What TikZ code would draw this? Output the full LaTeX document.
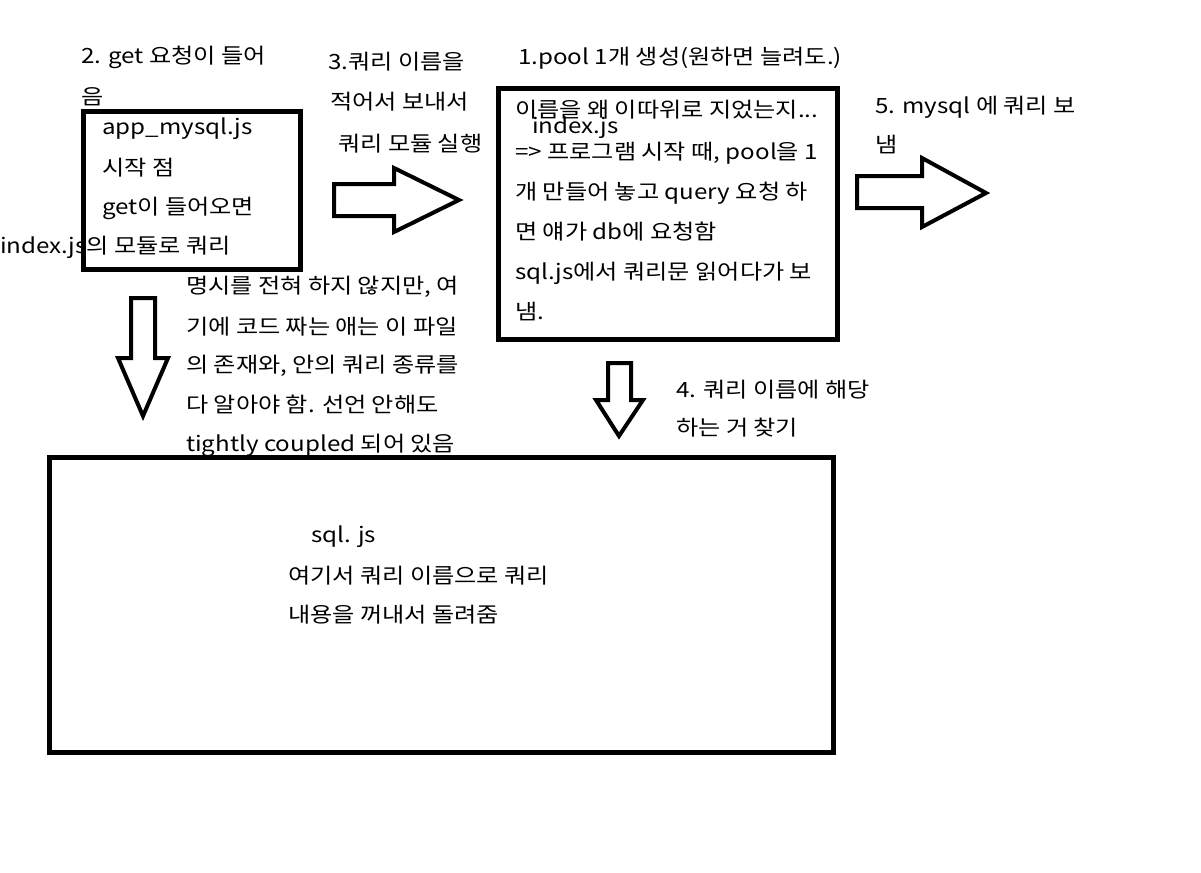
\documentclass[tikz,border=0pt]{standalone}
\usepackage{fontspec}
\setmainfont[FakeStretch=1.15]{Noto Sans CJK KR}
\begin{document}
\begin{tikzpicture}[x=1pt,y=-1pt,
  txt/.style={anchor=west,inner sep=0pt,font=\fontsize{21}{24}\selectfont},
  boxline/.style={draw=black,line width=5pt,fill=none,inner sep=0pt},
  blockarrow/.style={draw=black,line width=4pt,line join=miter,fill=white}]
\useasboundingbox[fill=white] (0,0) rectangle (1201,872);
% boxes
\node[boxline,minimum width=217pt,minimum height=157pt] (boxA) at (191.5,190.5) {};
\node[boxline,minimum width=339pt,minimum height=250pt] (boxB) at (667.5,214) {};
% texts top-left
\node[txt] (t2a) at (81,57) {2. get 요청이 들어};
\node[txt] (t2b) at (81,97) {음};
\node[txt] (a1) at (102,129) {app\_mysql.js};
\node[txt] (a2) at (102,168) {시작 점};
\node[txt] (a3) at (102,208) {get이 들어오면};
\node[txt] (a4) at (0,247) {index.js의 모듈로 쿼리};
% step 3
\node[txt] (t3a) at (328,62) {3.쿼리 이름을};
\node[txt] (t3b) at (330,102) {적어서 보내서};
\node[txt] (t3c) at (338,144) {쿼리 모듈 실행};
% step 1
\node[txt] (t1) at (518,58) {1.pool 1개 생성(원하면 늘려도.)};
\node[txt] (b1) at (515,110) {이름을 왜 이따위로 지었는지...};
\node[txt] (b0) at (532,128) {index.js};
\node[txt] (b2) at (515,153) {=> 프로그램 시작 때, pool을 1};
\node[txt] (b3) at (515,193) {개 만들어 놓고 query 요청 하};
\node[txt] (b4) at (515,232) {면 얘가 db에 요청함};
\node[txt] (b5) at (515,273) {sql.js에서 쿼리문 읽어다가 보};
\node[txt] (b6) at (515,312) {냄.};
% step 5
\node[txt] (t5a) at (875,107) {5. mysql 에 쿼리 보};
\node[txt] (t5b) at (875,145) {냄};
% note
\node[txt] (n1) at (186,287) {명시를 전혀 하지 않지만, 여};
\node[txt] (n2) at (186,327) {기에 코드 짜는 애는 이 파일};
\node[txt] (n3) at (186,366) {의 존재와, 안의 쿼리 종류를};
\node[txt] (n4) at (186,405) {다 알아야 함. 선언 안해도};
\node[txt] (n5) at (186,445) {tightly coupled 되어 있음};
% step 4
\node[txt] (t4a) at (676,390) {4. 쿼리 이름에 해당};
\node[txt] (t4b) at (676,428) {하는 거 찾기};
% box C (drawn over the note text)
\node[boxline,minimum width=784pt,minimum height=295pt] (boxC) at (441,604.5) {};
\node[txt] (c1) at (311,537) {sql. js};
\node[txt] (c2) at (288,576) {여기서 쿼리 이름으로 쿼리};
\node[txt] (c3) at (288,615) {내용을 꺼내서 돌려줌};
% block arrows
\draw[blockarrow] (334,184) -- (394,184) -- (394,168) -- (459,200) -- (394,232) -- (394,216) -- (334,216) -- cycle;
\draw[blockarrow] (857,176) -- (922,176) -- (922,158) -- (986,193) -- (922,227) -- (922,208) -- (857,208) -- cycle;
\draw[blockarrow] (131,298) -- (155,298) -- (155,358) -- (168,358) -- (143,416) -- (118,358) -- (131,358) -- cycle;
\draw[blockarrow] (608,363) -- (631,363) -- (631,400) -- (643,400) -- (619,436) -- (596,400) -- (608,400) -- cycle;
\end{tikzpicture}
\end{document}
